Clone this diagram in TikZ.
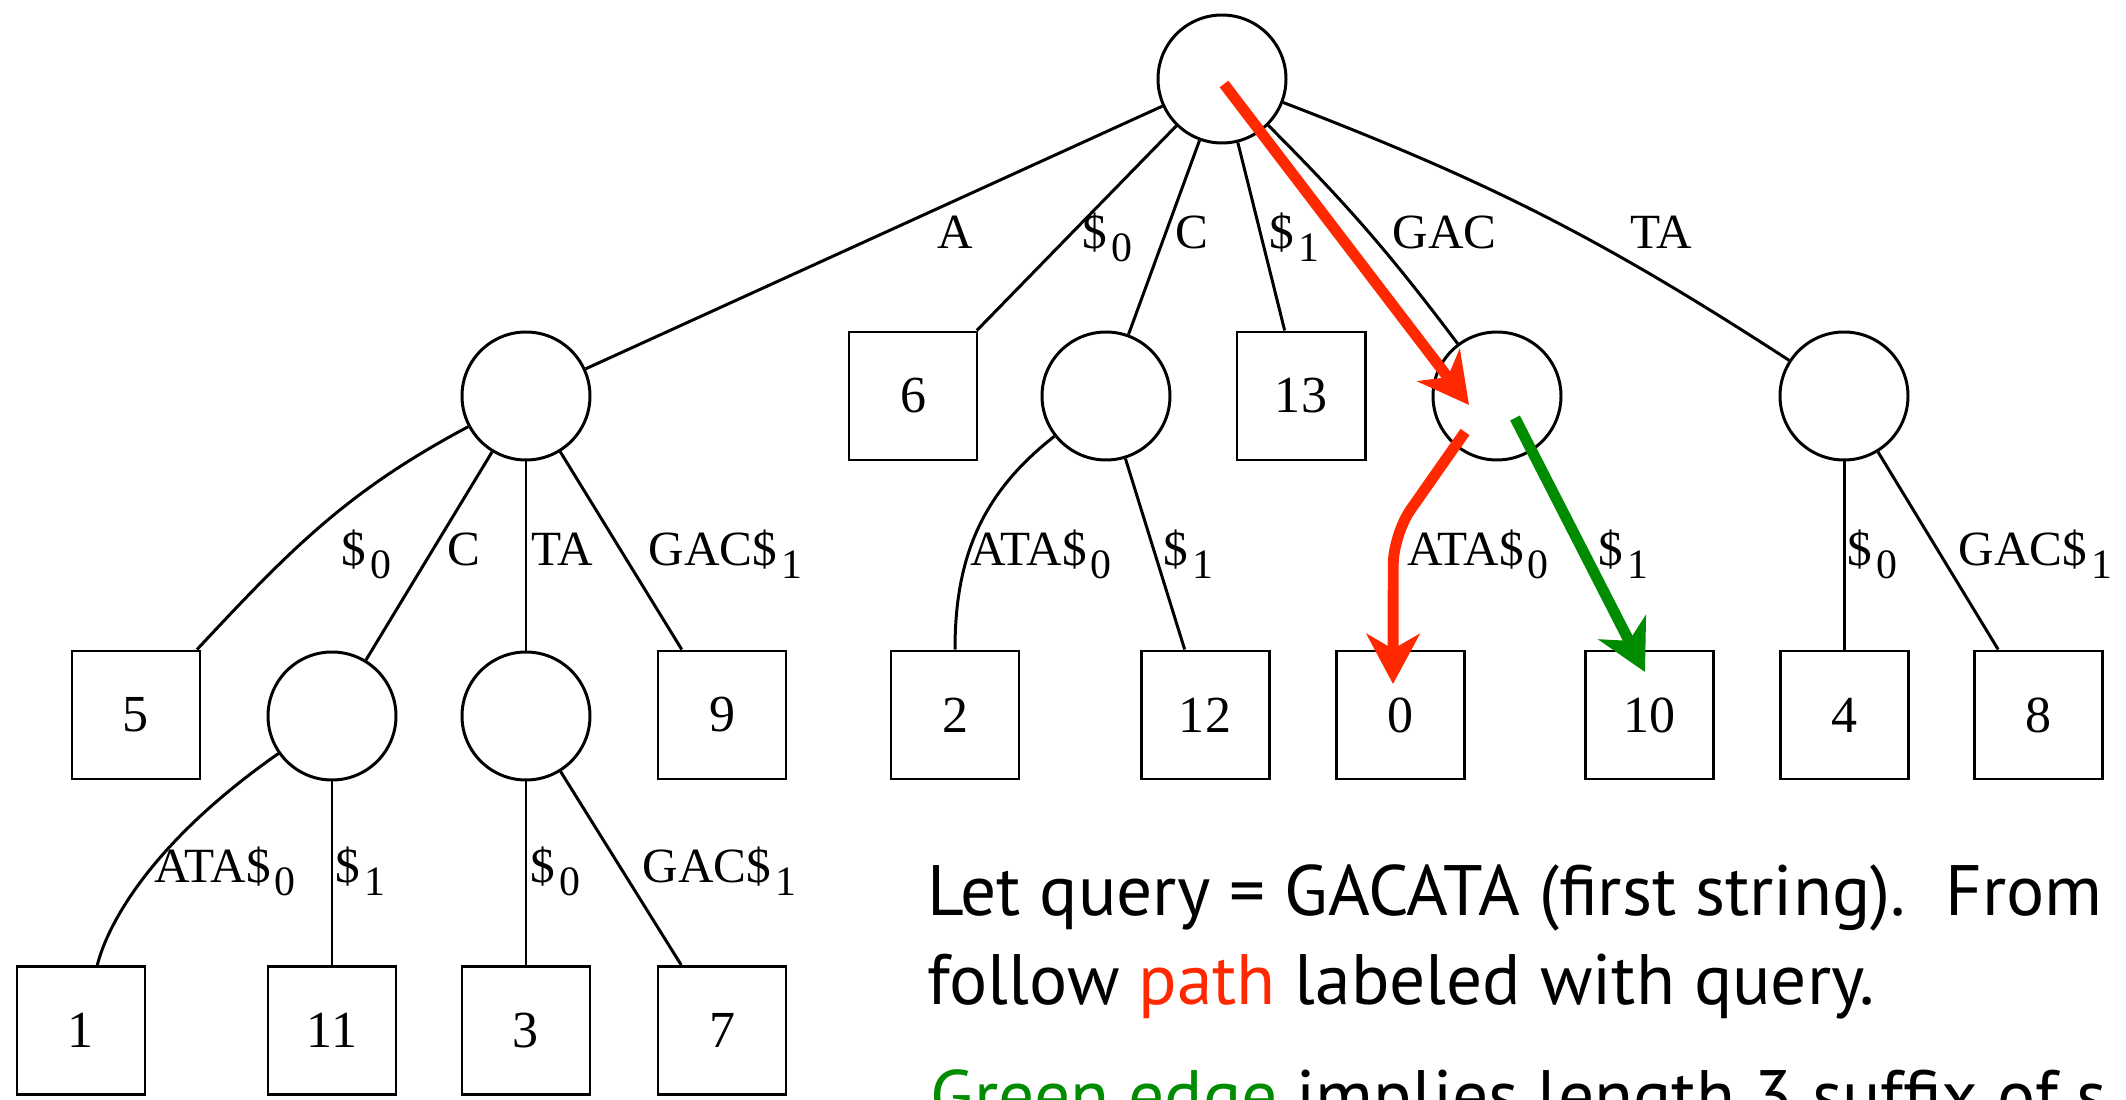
\documentclass[tikz,border=0pt]{standalone}
\usepackage{fontspec}
\setmainfont{Liberation Serif}
\newfontfamily\slidefont{PT Sans}
\usepackage{xcolor}
\usepackage{tikz}
\usetikzlibrary{arrows.meta}
\definecolor{rojo}{RGB}{255, 40, 0}
\definecolor{verde}{RGB}{0, 140, 0}
\newcommand{\sbi}[1]{\hspace{0.08em}\raisebox{-0.25em}{\fontsize{11.9}{12}\selectfont #1}}
\tikzset{
    inod/.style={draw, circle, minimum size=1.28cm, inner sep=0pt, line width=0.85pt},
    leaf/.style={draw, rectangle, minimum size=1.28cm, inner sep=0pt, line width=0.85pt, font=\fontsize{14.8}{17}\selectfont},
    conn/.style={-, line width=0.85pt},
    lab/.style={anchor=base west, inner sep=0pt, font=\fontsize{14}{17}\selectfont},
    ruta/.style={rojo, line width=3.1pt, -{Stealth[length=5mm, width=5.3mm, inset=1.5mm]}},
    suf/.style={ruta, verde},
    slide/.style={anchor=base west, inner sep=0pt, font=\slidefont\fontsize{20.3}{24}\selectfont},
}

\begin{document}
\begin{tikzpicture}
    \clip (0,0) rectangle (21.26,10.99);

    % root and first level
    \node[inod] (r) at (12.22, 10.20) {};
    \node[inod] (ch1) at (5.26, 7.03) {};
    \node[leaf] (ch2) at (9.13, 7.03) {6};
    \node[inod] (ch3) at (11.06, 7.03) {};
    \node[leaf] (ch4) at (13.01, 7.03) {13};
    \node[inod] (ch5) at (14.97, 7.03) {};
    \node[inod] (ch6) at (18.44, 7.03) {};

    % second level
    \node[leaf] (ch1a) at (1.36, 3.84) {5};
    \node[inod] (ch1b) at (3.32, 3.83) {};
    \node[inod] (ch1c) at (5.26, 3.83) {};
    \node[leaf] (ch1d) at (7.22, 3.84) {9};
    \node[leaf] (ch3a) at (9.55, 3.84) {2};
    \node[leaf] (ch3b) at (12.05, 3.84) {12};
    \node[leaf] (ch5a) at (14.00, 3.84) {0};
    \node[leaf] (ch5b) at (16.49, 3.84) {10};
    \node[leaf] (ch6a) at (18.44, 3.84) {4};
    \node[leaf] (ch6b) at (20.38, 3.84) {8};

    % third level
    \node[leaf] (ch1ba) at (0.81, 0.685) {1};
    \node[leaf] (ch1bb) at (3.32, 0.685) {11};
    \node[leaf] (ch1ca) at (5.26, 0.685) {3};
    \node[leaf] (ch1cb) at (7.22, 0.685) {7};

    \draw[conn] (r) -- (ch1);
    \draw[conn] (r) -- (ch2);
    \draw[conn] (r) -- (ch3);
    \draw[conn] (r) -- (ch4);
    \draw[conn] (r) to[bend left=4] (ch5);
    \draw[conn] (r) to[bend left=6] (ch6);

    \draw[conn] (ch1) to[out=208, in=47] (ch1a);
    \draw[conn] (ch1) -- (ch1b);
    \draw[conn] (ch1) -- (ch1c);
    \draw[conn] (ch1) -- (ch1d);
    \draw[conn] (ch3) to[out=218, in=90] (ch3a);
    \draw[conn] (ch3) -- (ch3b);
    \draw[conn] (ch6) -- (ch6a);
    \draw[conn] (ch6) -- (ch6b);

    \draw[conn] (ch1b) .. controls +(215:2.3) and +(76:0.35) .. (ch1ba.76);
    \draw[conn] (ch1b) -- (ch1bb);
    \draw[conn] (ch1c) -- (ch1ca);
    \draw[conn] (ch1c) -- (ch1cb);

    % edge labels
    \node[lab] (lA) at (9.37, 8.50) {A};
    \node[lab] (lD0) at (10.82, 8.50) {\$\sbi{0}};
    \node[lab] (lC) at (11.75, 8.50) {C};
    \node[lab] (lD1) at (12.69, 8.50) {\$\sbi{1}};
    \node[lab] (lGAC) at (13.92, 8.50) {GAC};
    \node[lab] (lTA) at (16.30, 8.50) {TA};

    \node[lab] (l1a) at (3.41, 5.33) {\$\sbi{0}};
    \node[lab] (l1b) at (4.47, 5.33) {C};
    \node[lab] (l1c) at (5.31, 5.33) {TA};
    \node[lab] (l1d) at (6.48, 5.33) {GAC\$\sbi{1}};
    \node[lab] (l3a) at (9.70, 5.33) {ATA\$\sbi{0}};
    \node[lab] (l3b) at (11.63, 5.33) {\$\sbi{1}};
    \node[lab] (l5a) at (14.07, 5.33) {ATA\$\sbi{0}};
    \node[lab] (l5b) at (15.98, 5.33) {\$\sbi{1}};
    \node[lab] (l6a) at (18.47, 5.33) {\$\sbi{0}};
    \node[lab] (l6b) at (19.58, 5.33) {GAC\$\sbi{1}};

    \node[lab] (l1ba) at (1.54, 2.16) {ATA\$\sbi{0}};
    \node[lab] (l1bb) at (3.35, 2.16) {\$\sbi{1}};
    \node[lab] (l1ca) at (5.30, 2.16) {\$\sbi{0}};
    \node[lab] (l1cb) at (6.42, 2.16) {GAC\$\sbi{1}};

    % query path
    \draw[ruta] ([shift={(0.02,-0.05)}]r.center) -- ([shift={(-0.28,-0.09)}]ch5.center);
    \draw[ruta, rounded corners=0.3cm] ([shift={(-0.32,-0.36)}]ch5.center) -- ++(235:1.25) -- ([shift={(-0.07,0.31)}]ch5a.center);
    \draw[suf] ([shift={(0.18,-0.22)}]ch5.center) -- ([shift={(-0.04,0.43)}]ch5b.center);

    % slide text
    \node[slide] (t1) at (9.27, 1.84) {Let query = GACATA (first string).\hspace{0.2em} From};
    \node[slide] (t2) at (9.27, 0.95) {follow \textcolor{rojo}{path} labeled with query.};
    \node[slide] (t3) at (9.30, -0.21) {\textcolor{verde}{Green edge} implies length 3 suffix of s};
\end{tikzpicture}
\end{document}
